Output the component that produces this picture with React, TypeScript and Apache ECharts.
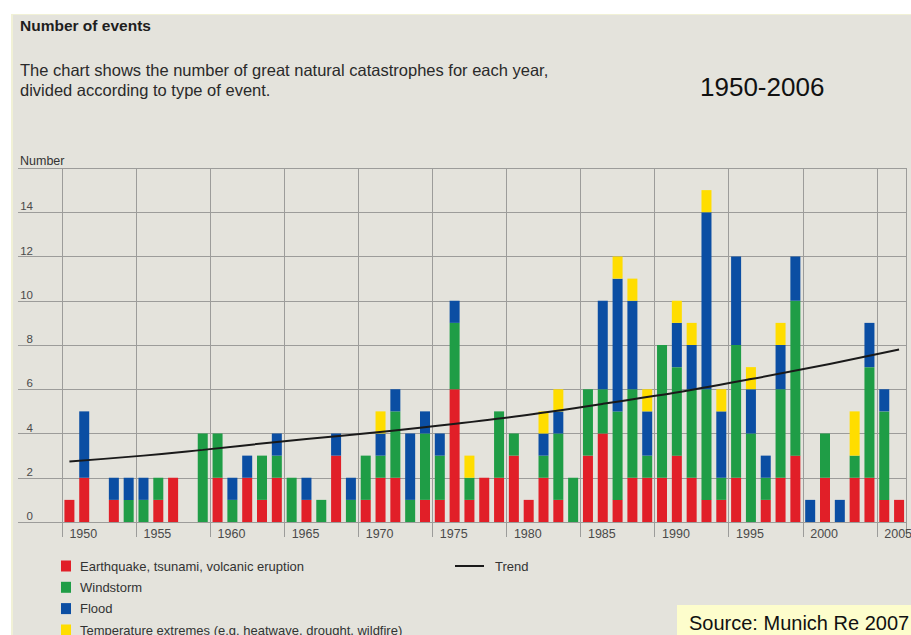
import React, { useEffect, useRef } from "react";
import * as echarts from "echarts";

const years = [
  "1950", "1951", "1952", "1953", "1954", "1955", "1956", "1957", "1958", "1959",
  "1960", "1961", "1962", "1963", "1964", "1965", "1966", "1967", "1968", "1969",
  "1970", "1971", "1972", "1973", "1974", "1975", "1976", "1977", "1978", "1979",
  "1980", "1981", "1982", "1983", "1984", "1985", "1986", "1987", "1988", "1989",
  "1990", "1991", "1992", "1993", "1994", "1995", "1996", "1997", "1998", "1999",
  "2000", "2001", "2002", "2003", "2004", "2005", "2006",
];

// 1950 ... 2006
const earthquake = [
  1, 2, 0, 1, 0, 0, 1, 2, 0, 0,
  2, 0, 2, 1, 2, 0, 1, 0, 3, 0,
  1, 2, 2, 0, 1, 1, 6, 1, 2, 2,
  3, 1, 2, 1, 0, 3, 4, 1, 2, 2,
  2, 3, 2, 1, 1, 2, 0, 1, 2, 3,
  0, 2, 0, 2, 2, 1, 1,
];
const windstorm = [
  0, 0, 0, 0, 1, 1, 1, 0, 0, 4,
  2, 1, 0, 2, 1, 2, 0, 1, 0, 1,
  2, 1, 3, 1, 3, 2, 3, 1, 0, 3,
  1, 0, 1, 3, 2, 3, 2, 4, 4, 1,
  6, 4, 4, 5, 1, 6, 4, 1, 4, 7,
  0, 2, 0, 1, 5, 4, 0,
];
const flood = [
  0, 3, 0, 1, 1, 1, 0, 0, 0, 0,
  0, 1, 1, 0, 1, 0, 1, 0, 1, 1,
  0, 1, 1, 3, 1, 1, 1, 0, 0, 0,
  0, 0, 1, 1, 0, 0, 4, 6, 4, 2,
  0, 2, 2, 8, 3, 4, 2, 1, 2, 2,
  1, 0, 1, 0, 2, 1, 0,
];
const temperature = [
  0, 0, 0, 0, 0, 0, 0, 0, 0, 0,
  0, 0, 0, 0, 0, 0, 0, 0, 0, 0,
  0, 1, 0, 0, 0, 0, 0, 1, 0, 0,
  0, 0, 1, 1, 0, 0, 0, 1, 1, 1,
  0, 1, 1, 1, 1, 0, 1, 0, 1, 0,
  0, 0, 0, 2, 0, 0, 0,
];

const trendYears = ["1950", "1955", "1959", "1964", "1975", "1986", "1996", "2006"];
const trendValues = [2.74, 3.0, 3.26, 3.62, 4.36, 5.34, 6.46, 7.8];

const seriesNames = [
  "Earthquake, tsunami, volcanic eruption",
  "Windstorm",
  "Flood",
  "Temperature extremes (e.g. heatwave, drought, wildfire)",
];
const seriesData = [earthquake, windstorm, flood, temperature];
const seriesColors = ["#e11f28", "#1f9d46", "#0b4ea3", "#ffdd00"];
const trendName = "Trend";

const FONT = "'Liberation Sans', Arial, sans-serif";
const GRID_COLOR = "#9c9c9a";

export default function App() {
  const ref = useRef<HTMLDivElement>(null);

  useEffect(() => {
    if (!ref.current) return;
    const chart = echarts.init(ref.current, undefined, { renderer: "svg" });
    const every5 = (index: number) => index % 5 === 0;

    const bars = seriesNames.map((name, i) => ({
      name,
      type: "bar",
      stack: "events",
      barWidth: 10,
      itemStyle: { color: seriesColors[i] },
      data: seriesData[i],
      z: 2,
    }));

    const legendText = {
      fontSize: 13,
      lineHeight: 14,
      color: "#333",
      fontFamily: FONT,
      padding: [0, 0, 0, 4],
    };

    chart.setOption({
      animation: false,
      textStyle: { fontFamily: FONT },
      grid: { left: 62, right: 0, top: 168, bottom: 113 },
      xAxis: {
        type: "category",
        data: years,
        boundaryGap: true,
        axisLine: { show: false },
        axisTick: {
          show: true,
          interval: every5,
          length: 15,
          lineStyle: { color: GRID_COLOR, width: 1 },
        },
        axisLabel: {
          interval: every5,
          align: "left",
          margin: 5,
          color: "#4a4a4a",
          fontSize: 12.5,
          fontFamily: FONT,
        },
        splitLine: {
          show: true,
          interval: every5,
          lineStyle: { color: GRID_COLOR, width: 1 },
        },
      },
      yAxis: {
        type: "value",
        min: 0,
        max: 16,
        interval: 2,
        axisLine: { show: false },
        axisTick: {
          show: true,
          length: 44,
          lineStyle: { color: GRID_COLOR, width: 1 },
        },
        axisLabel: {
          margin: 29,
          align: "right",
          verticalAlign: "bottom",
          color: "#4a4a4a",
          fontSize: 11.5,
          fontFamily: FONT,
          formatter: (v: number) => (v === 16 ? "" : String(v)),
        },
        splitLine: { show: true, lineStyle: { color: GRID_COLOR, width: 1 } },
      },
      legend: [
        {
          orient: "vertical",
          left: 61,
          top: 559,
          padding: 0,
          itemWidth: 10,
          itemHeight: 11,
          itemGap: 7.3,
          icon: "rect",
          selectedMode: false,
          data: seriesNames.slice(0, 3),
          textStyle: legendText,
        },
        {
          orient: "vertical",
          left: 61,
          top: 623,
          padding: 0,
          itemWidth: 10,
          itemHeight: 11,
          icon: "rect",
          selectedMode: false,
          data: seriesNames.slice(3),
          textStyle: legendText,
        },
        {
          orient: "vertical",
          left: 455,
          top: 559,
          padding: 0,
          itemWidth: 29,
          itemHeight: 2,
          icon: "rect",
          selectedMode: false,
          data: [trendName],
          itemStyle: { color: "#1a1a1a" },
          textStyle: { ...legendText, padding: [0, 0, 0, 6] },
        },
      ],
      graphic: [
        {
          type: "text",
          x: 20,
          y: 25,
          style: {
            text: "Number of events",
            font: `bold 15.5px ${FONT}`,
            fill: "#1e1e1e",
            align: "left",
            verticalAlign: "middle",
          },
        },
        {
          type: "text",
          x: 20,
          y: 70,
          style: {
            text: "The chart shows the number of great natural catastrophes for each year,",
            font: `16.5px ${FONT}`,
            fill: "#2a2a2a",
            align: "left",
            verticalAlign: "middle",
          },
        },
        {
          type: "text",
          x: 20,
          y: 90,
          style: {
            text: "divided according to type of event.",
            font: `16.5px ${FONT}`,
            fill: "#2a2a2a",
            align: "left",
            verticalAlign: "middle",
          },
        },
        {
          type: "text",
          x: 700,
          y: 87,
          style: {
            text: "1950-2006",
            font: `26px ${FONT}`,
            fill: "#111",
            align: "left",
            verticalAlign: "middle",
          },
        },
        {
          type: "text",
          x: 20,
          y: 161,
          style: {
            text: "Number",
            font: `12.5px ${FONT}`,
            fill: "#333",
            align: "left",
            verticalAlign: "middle",
          },
        },
        {
          type: "rect",
          shape: { x: 677, y: 605, width: 240, height: 40 },
          style: { fill: "#fdfdcc" },
          z: 10,
        },
        {
          type: "text",
          x: 689,
          y: 623,
          z: 11,
          style: {
            text: "Source: Munich Re 2007",
            font: `20px ${FONT}`,
            fill: "#111",
            align: "left",
            verticalAlign: "middle",
          },
        },
      ],
      series: [
        ...bars,
        {
          name: trendName,
          type: "line",
          smooth: true,
          symbol: "none",
          showSymbol: false,
          lineStyle: { color: "#1a1a1a", width: 2 },
          itemStyle: { color: "#1a1a1a" },
          data: trendYears.map((y, i) => [y, trendValues[i]]),
          z: 5,
        },
      ],
    });

    return () => chart.dispose();
  }, []);

  return (
    <div
      style={{
        position: "absolute",
        left: 0,
        top: 0,
        width: 911,
        height: 635,
        overflow: "hidden",
        background: "#ffffff",
      }}
    >
      <div
        style={{
          position: "absolute",
          left: 11,
          top: 14,
          width: 900,
          height: 621,
          background: "#e4e3dc",
          borderLeft: "2px solid #f1f1d6",
          borderTop: "1px solid #f1f1d6",
          boxSizing: "border-box",
        }}
      />
      <div ref={ref} style={{ position: "absolute", left: 0, top: 0, width: 915, height: 635 }} />
    </div>
  );
}
